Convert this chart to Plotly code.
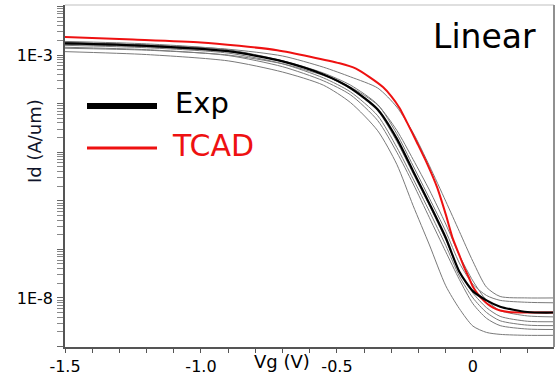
import plotly.graph_objects as go

# Gate voltage grid (V) used for the measured curves
vg_grid = [-1.5, -1.2, -0.9, -0.7, -0.55, -0.45, -0.35, -0.28, -0.22, -0.16,
           -0.10, -0.05, 0.0, 0.05, 0.1, 0.2, 0.3]

# log10(Id) of the individual measured devices (thin grey)
exp_g1 = [-2.93, -2.99, -3.12, -3.35, -3.62, -3.98, -4.56, -5.25, -6.10, -6.91, -7.75, -8.22, -8.58, -8.71, -8.75, -8.77, -8.77]
exp_g2 = [-2.84, -2.89, -3.01, -3.24, -3.53, -3.82, -4.35, -5.00, -5.65, -6.35, -7.05, -7.62, -8.12, -8.42, -8.57, -8.64, -8.65]
exp_g3 = [-2.80, -2.85, -2.96, -3.18, -3.47, -3.76, -4.25, -4.90, -5.55, -6.22, -6.92, -7.55, -8.00, -8.30, -8.47, -8.56, -8.57]
exp_g4 = [-2.72, -2.77, -2.89, -3.12, -3.40, -3.70, -4.15, -4.78, -5.44, -6.10, -6.80, -7.45, -7.90, -8.20, -8.38, -8.48, -8.49]
exp_g5 = [-2.86, -2.90, -3.00, -3.18, -3.42, -3.66, -4.03, -4.55, -5.15, -5.78, -6.48, -7.12, -7.65, -8.05, -8.26, -8.37, -8.39]
exp_g6 = [-2.78, -2.83, -2.93, -3.12, -3.37, -3.62, -4.02, -4.62, -5.28, -5.95, -6.63, -7.28, -7.72, -7.95, -8.05, -8.09, -8.10]
exp_g7 = [-2.74, -2.79, -2.88, -3.02, -3.25, -3.45, -3.68, -4.07, -4.60, -5.28, -6.01, -6.63, -7.25, -7.78, -7.97, -8.00, -8.00]
exp_runs = [exp_g1, exp_g2, exp_g3, exp_g4, exp_g5, exp_g6, exp_g7]

# Representative measured curve (thick black)
exp_mean = [-2.76, -2.81, -2.92, -3.13, -3.40, -3.68, -4.12, -4.72, -5.39, -6.06, -6.76, -7.46, -7.86, -8.05, -8.18, -8.29, -8.30]

# TCAD simulation (red)
tcad_vg = [-1.5, -1.25, -1.0, -0.72, -0.49, -0.43, -0.379, -0.331, -0.300, -0.270, -0.243, -0.206,
           -0.169, -0.132, -0.100, -0.074, -0.050, -0.033, -0.015, 0.0, 0.018, 0.037,
           0.055, 0.074, 0.10, 0.132, 0.2, 0.3]
tcad_log = [-2.63, -2.68, -2.74, -2.90, -3.17, -3.28, -3.46, -3.66, -3.85, -4.09, -4.38, -4.80,
            -5.23, -5.72, -6.28, -6.78, -7.12, -7.36, -7.58, -7.77, -7.92, -8.04,
            -8.13, -8.20, -8.26, -8.29, -8.30, -8.30]

x_tick_vals = [-1.5, -1.0, -0.5, 0.0]
x_tick_text = ["-1.5", "-1.0", "-0.5", "0"]
y_label_map = {-3: "1E-3", -8: "1E-8"}

FONT = "DejaVu Sans"

fig = go.Figure()
for run in exp_runs:
    fig.add_trace(go.Scatter(x=vg_grid, y=[10 ** v for v in run], mode="lines",
                             line=dict(color="#7a7a7a", width=1, shape="spline", smoothing=0.7),
                             showlegend=False))
fig.add_trace(go.Scatter(x=tcad_vg, y=[10 ** v for v in tcad_log], mode="lines",
                         line=dict(color="#ee1111", width=2, shape="spline", smoothing=0.6),
                         showlegend=False))
fig.add_trace(go.Scatter(x=vg_grid, y=[10 ** v for v in exp_mean], mode="lines",
                         line=dict(color="#000000", width=2.2, shape="spline", smoothing=0.7),
                         showlegend=False))

major_y = [10.0 ** k for k in range(-9, -1)]
major_text = [y_label_map.get(k, "") for k in range(-9, -1)]
minor_y = [m * 10.0 ** k for k in range(-9, -2) for m in range(2, 10)]

fig.update_layout(
    width=556, height=378,
    margin=dict(l=65, r=2, t=5, b=31),
    paper_bgcolor="white", plot_bgcolor="white",
    font=dict(family=FONT, color="#000000"),
    xaxis=dict(range=[-1.5, 0.298], tickmode="array", tickvals=x_tick_vals, ticktext=x_tick_text,
               ticks="outside", ticklen=4, tickcolor="#555", showgrid=False, zeroline=False,
               showline=True, linecolor="#555", linewidth=1.5,
               tickfont=dict(size=16, family=FONT),
               minor=dict(dtick=0.1, tick0=0, ticks="outside", ticklen=4, tickcolor="#555", showgrid=False)),
    yaxis=dict(type="log", range=[-9.01, -1.97], tickmode="array", tickvals=major_y, ticktext=major_text,
               ticks="outside", ticklen=6, tickcolor="#666", showgrid=False, zeroline=False,
               showline=True, linecolor="#555", linewidth=1.5,
               tickfont=dict(size=16, family=FONT), ticklabelstandoff=1,
               minor=dict(tickmode="array", tickvals=minor_y, ticks="outside", ticklen=6,
                          tickcolor="#888", showgrid=False)),
)

# frame (top and right)
fig.add_shape(type="line", xref="paper", yref="paper", x0=0, x1=1, y0=1, y1=1,
              line=dict(color="#d4d4d4", width=1.5))
fig.add_shape(type="line", xref="paper", yref="paper", x0=1, x1=1, y0=0, y1=1,
              line=dict(color="#909090", width=2))

# axis titles
fig.add_annotation(text="Vg (V)", xref="paper", yref="paper", x=(282 - 65) / 489, y=-15 / 342,
                   showarrow=False, font=dict(size=18, family=FONT), xanchor="center", yanchor="middle")
fig.add_annotation(text="Id (A/um)", xref="paper", yref="paper", x=(34 - 65) / 489, y=(347 - 141) / 342,
                   showarrow=False, textangle=-90, font=dict(size=18, family=FONT, color="#10142a"),
                   xanchor="center", yanchor="middle")

# legend drawn inside plot
fig.add_shape(type="line", xref="paper", yref="paper", x0=(87 - 65) / 489, x1=(157 - 65) / 489,
              y0=(347 - 106) / 342, y1=(347 - 106) / 342, line=dict(color="black", width=6))
fig.add_shape(type="line", xref="paper", yref="paper", x0=(87 - 65) / 489, x1=(157 - 65) / 489,
              y0=(347 - 148) / 342, y1=(347 - 148) / 342, line=dict(color="#ee1111", width=3))
fig.add_annotation(text="Exp", xref="paper", yref="paper", x=(173 - 65) / 489, y=(347 - 103) / 342,
                   showarrow=False, font=dict(size=29, family=FONT, color="black"),
                   xanchor="left", yanchor="middle")
fig.add_annotation(text="TCAD", xref="paper", yref="paper", x=(170 - 65) / 489, y=(347 - 146) / 342,
                   showarrow=False, font=dict(size=30, family=FONT, color="#ee1111"),
                   xanchor="left", yanchor="middle")
fig.add_annotation(text="Linear", xref="paper", yref="paper", x=(431 - 65) / 489, y=(347 - 36) / 342,
                   showarrow=False, font=dict(size=33, family=FONT, color="black"),
                   xanchor="left", yanchor="middle")

fig.write_html("out.html")
